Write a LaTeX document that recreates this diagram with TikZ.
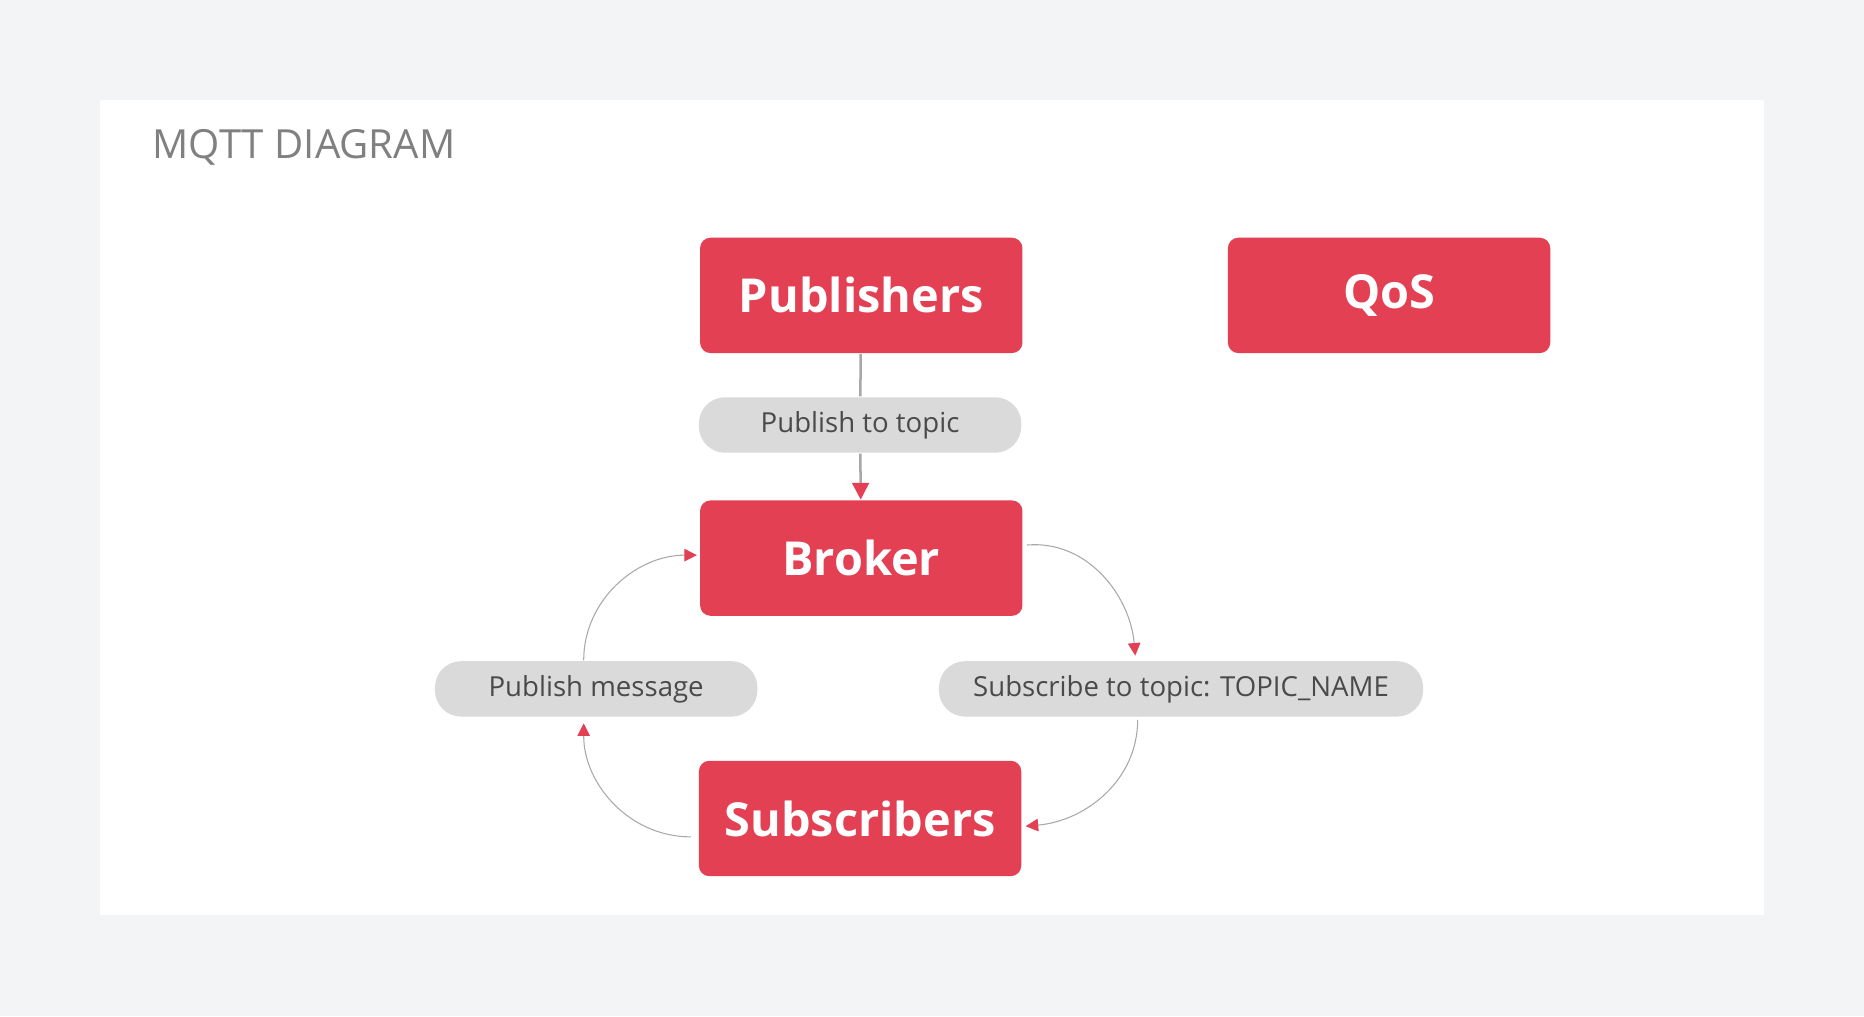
\documentclass[tikz,border=0pt]{standalone}
\usepackage{fontspec}
\setmainfont{Open Sans}
\usetikzlibrary{arrows.meta,positioning,calc}
\definecolor{mqttred}{HTML}{E34054}
\definecolor{pillgray}{HTML}{DADADA}
\definecolor{pagegray}{HTML}{F3F4F6}
\definecolor{linegray}{HTML}{A8A8A8}
\definecolor{textgray}{HTML}{4A4A4A}
\tikzset
{
    block/.style = {rectangle, rounded corners=2.5pt, fill=mqttred, text=white, minimum width=2.71cm, minimum height=0.97cm, font=\fontsize{11.2}{13}\selectfont\bfseries},
    pill/.style  = {rectangle, rounded corners=0.22cm, fill=pillgray, text=textgray, minimum height=0.45cm, font=\fontsize{6.6}{8}\selectfont},
    flow/.style  = {draw=linegray, line width=0.25pt, -{Triangle[length=3pt,width=3pt,color=mqttred]}},
    stem/.style  = {draw=linegray, line width=0.6pt}
}
\begin{document}
\begin{tikzpicture}[x=0.01cm, y=-0.01cm]
	\fill[pagegray] (0,0) rectangle (1568,855);
	\fill[white] (84,84) rectangle (1484,770);
	\node (title) [anchor=west, text=gray, font=\fontsize{9.6}{11}\selectfont] at (116,124) {MQTT DIAGRAM};

	\node (pub) [block] at (724.5,248.5) {Publishers};
	\node (qos) [block] at (1168.5,248.5) {QoS};
	\node (pubtopic) [pill, minimum width=2.71cm] at (723.5,357.5) {Publish to topic};
	\node (broker) [block] at (724.5,469.5) {Broker};
	\node (pubmsg) [pill, minimum width=2.71cm] at (501.5,579.5) {Publish message};
	\node (subtopic) [pill, minimum width=4.07cm] at (993.5,579.5) {Subscribe to topic: TOPIC\_NAME};
	\node (subs) [block] at (723.5,688.5) {Subscribers};

	\draw [stem] (pub) -- (pubtopic);
	\draw [stem, -{Triangle[length=4pt,width=4pt,color=mqttred]}] (pubtopic) -- (broker);
	\draw [flow] ([shift={(3,-11)}]broker.east) to[out=5,in=95] ([shift={(-38.5,-4)}]subtopic.north);
	\draw [flow] ([shift={(-36.5,2)}]subtopic.south) to[out=-90,in=5] ([shift={(3,6.5)}]subs.east);
	\draw [flow] ([shift={(-6,15.5)}]subs.west) to[out=180,in=-90] ([shift={(-10.5,5)}]pubmsg.south);
	\draw [flow] ([shift={(-10.5,0)}]pubmsg.north) to[out=90,in=180] ([shift={(-2,-2.5)}]broker.west);
\end{tikzpicture}
\end{document}
